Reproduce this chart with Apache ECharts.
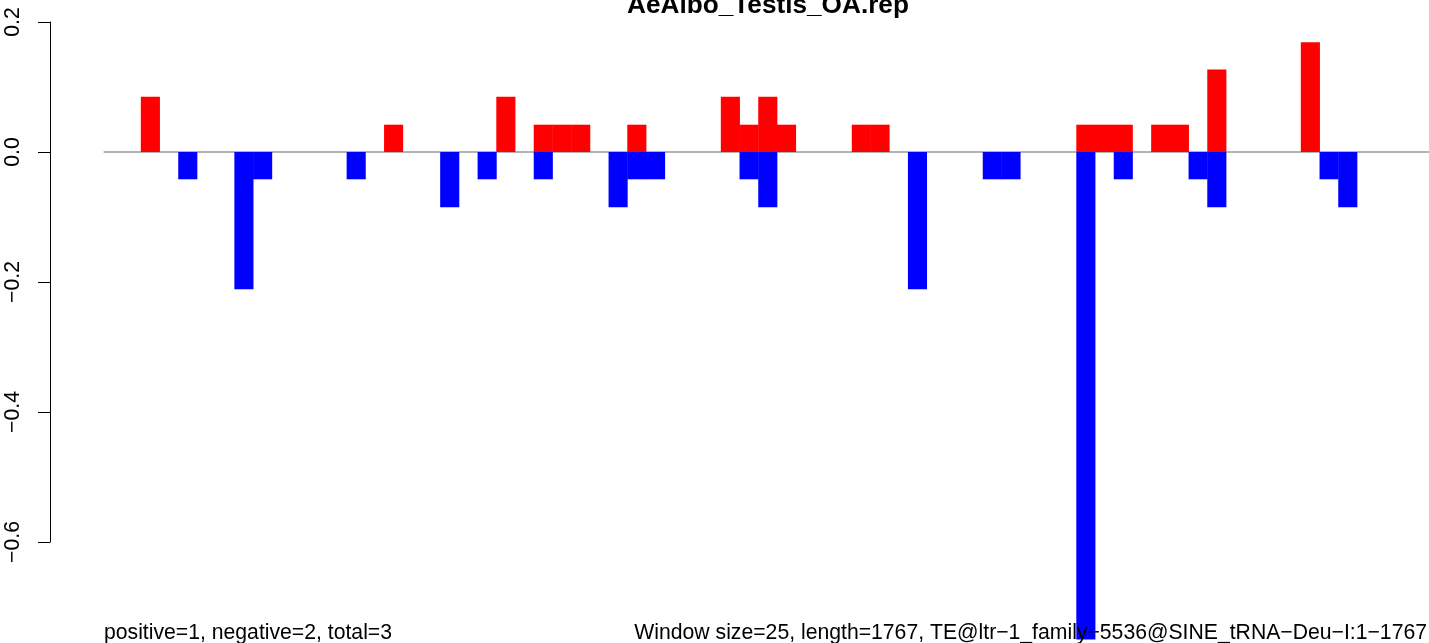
<!DOCTYPE html>
<html>
<head>
<meta charset="utf-8">
<script src="https://cdn.jsdelivr.net/npm/echarts@6/dist/echarts.min.js"></script>
<style>
  html, body { margin: 0; padding: 0; background: #fff; }
  #chart { width: 1429px; height: 643px; }
</style>
</head>
<body>
<div id="chart"></div>
<script>
const titleText = "AeAlbo_Testis_OA.rep";
const statsText = "positive=1, negative=2, total=3";
const infoText = "Window size=25, length=1767, TE@ltr\u22121_family\u22125536@SINE_tRNA\u2212Deu\u2212I:1\u22121767";
const windowCount = 71;
const yTicks = [-0.6, -0.4, -0.2, 0.0, 0.2];

// one value per 25bp window, 0 where nothing was drawn
const positive = [
  0, 0, 0.085, 0, 0, 0, 0, 0, 0, 0,
  0, 0, 0, 0, 0, 0.042, 0, 0, 0, 0,
  0, 0.085, 0, 0.042, 0.042, 0.042, 0, 0, 0.042, 0,
  0, 0, 0, 0.085, 0.042, 0.085, 0.042, 0, 0, 0,
  0.042, 0.042, 0, 0, 0, 0, 0, 0, 0, 0,
  0, 0, 0.042, 0.042, 0.042, 0, 0.042, 0.042, 0, 0.127,
  0, 0, 0, 0, 0.169, 0, 0, 0, 0, 0,
  0
];
const negative = [
  0, 0, 0, 0, -0.042, 0, 0, -0.211, -0.042, 0,
  0, 0, 0, -0.042, 0, 0, 0, 0, -0.085, 0,
  -0.042, 0, 0, -0.042, 0, 0, 0, -0.085, -0.042, -0.042,
  0, 0, 0, 0, -0.042, -0.085, 0, 0, 0, 0,
  0, 0, 0, -0.211, 0, 0, 0, -0.042, -0.042, 0,
  0, 0, -0.75, 0, -0.042, 0, 0, 0, -0.042, -0.085,
  0, 0, 0, 0, 0, -0.042, -0.085, 0, 0, 0,
  0
];

const FONT = "'Liberation Sans', Arial, Helvetica, sans-serif";
const FONT_SIZE = 21.2;
const gridLeft = 50;
const gridWidth = 1379;
const xMin = -2.865;
const xMax = 70.84;
const slotPx = gridWidth / (xMax - xMin);

function toBars(values) {
  const out = [];
  values.forEach((v, i) => {
    if (v !== 0) out.push([i + 0.5, v]);
  });
  return out;
}

function fmtTick(v) {
  return v.toFixed(1).replace("-", "\u2212");
}

const chart = echarts.init(document.getElementById("chart"));
chart.setOption({
  animation: false,
  backgroundColor: "#ffffff",
  title: {
    text: titleText,
    left: 768,
    top: -9,
    padding: 0,
    textAlign: "center",
    textStyle: { fontFamily: FONT, fontSize: 26.2, fontWeight: "bold", color: "#000", lineHeight: 30 },
  },
  grid: { left: gridLeft, width: gridWidth, top: 22, bottom: 101, outerBoundsMode: "none" },
  xAxis: { type: "value", min: xMin, max: xMax, show: false },
  yAxis: {
    type: "value",
    min: yTicks[0],
    max: yTicks[yTicks.length - 1],
    interval: 0.2,
    axisLine: { show: true, onZero: false, lineStyle: { color: "#000", width: 1 } },
    axisTick: { show: true, length: 12, lineStyle: { color: "#000", width: 1 } },
    splitLine: { show: false },
    axisLabel: {
      rotate: 90,
      margin: 26,
      color: "#000",
      fontFamily: FONT,
      fontSize: FONT_SIZE,
      formatter: fmtTick,
    },
  },
  graphic: [
    {
      type: "text",
      z: 100,
      x: 104,
      y: 633.5,
      style: { text: statsText, font: FONT_SIZE + "px " + FONT, fill: "#000", align: "left", verticalAlign: "middle" },
    },
    {
      type: "text",
      z: 100,
      x: 1427,
      y: 633.5,
      style: { text: infoText, font: FONT_SIZE + "px " + FONT, fill: "#000", align: "right", verticalAlign: "middle" },
    },
  ],
  series: [
    {
      name: "zero",
      type: "line",
      z: 1,
      symbol: "none",
      silent: true,
      lineStyle: { color: "#9a9a9a", width: 1.5 },
      data: [[0, 0], [windowCount + 1, 0]],
    },
    {
      name: "positive",
      type: "bar",
      barWidth: slotPx + 0.4,
      barGap: "-100%",
      clip: false,
      itemStyle: { color: "#ff0000" },
      data: toBars(positive),
    },
    {
      name: "negative",
      type: "bar",
      barWidth: slotPx + 0.4,
      barGap: "-100%",
      clip: false,
      itemStyle: { color: "#0000ff" },
      data: toBars(negative),
    },
  ],
});
</script>
</body>
</html>
